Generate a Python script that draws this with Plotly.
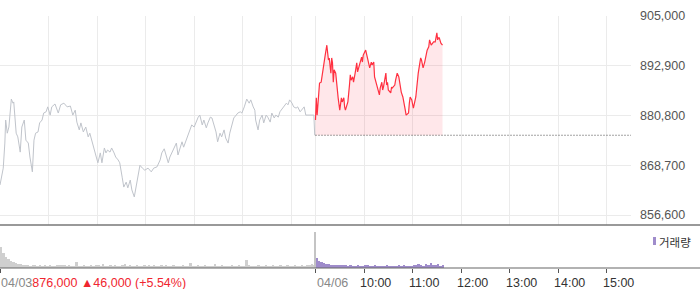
import plotly.graph_objects as go

# ---------------- data ----------------
PREV_CLOSE = 876000          # 04/03 close
DAY2_OFFSET = 390            # minutes of a trading session (09:00-15:30)

# 04/03 intraday (minutes after 09:00, price)
d1_min = [0,4,6,7,9,11,14,16,17,20,22,25,27,30,32,35,37,40,42,44,47,49,52,54,57,59,62,64,68,72,
          75,79,83,87,90,93,95,98,100,103,106,109,111,114,116,119,121,124,126,129,131,133,136,138,141,143,146,148,151,153,
          156,158,161,163,166,168,171,173,176,179,183,187,190,194,198,200,203,205,208,210,213,215,218,220,223,225,227,230,232,235,
          237,240,242,245,247,250,252,255,257,260,262,265,267,269,272,274,277,279,282,284,287,289,292,294,297,299,302,305,308,310,
          313,315,316,319,321,324,326,329,331,334,336,339,341,344,346,349,351,354,356,358,361,363,366,368,371,373,376,378,381,388,389]
d1_price = [863900,868000,874100,879700,876500,878000,884800,883800,884100,876500,875600,871900,878000,879700,874800,874100,870700,867100,874800,876500,
            876800,879000,879700,881400,881700,882900,880900,882900,883600,881400,883400,883800,882900,883100,880900,882100,879200,877300,879000,876800,
            878000,875600,876500,874100,873100,870700,869300,871700,869300,872900,871700,872400,871900,872900,871700,870700,870000,869300,865800,863400,
            864600,863200,865100,862700,861000,863400,866800,868700,868000,867500,868000,867100,868000,868300,870000,871700,872700,871200,869300,870700,
            871900,873100,874100,871200,873100,874400,873100,874800,875600,877800,878500,878000,879000,880400,880900,878500,879700,877800,879000,880400,
            880200,878000,876800,874400,876500,875600,877300,875300,874100,876500,879000,880200,880900,881400,881700,881400,882900,884800,883800,884600,
            882900,882100,879700,877300,879700,880900,879000,880900,880400,879200,881400,880200,880900,880400,881700,882600,882900,883800,883400,884600,
            883800,882900,882600,882900,881700,882100,882900,880900,880900,880900,876000]

# 04/06 intraday (minutes after 09:00, price)
d2_min = [0,1,2,5,7,10,11,12,14,15,16,17,19,20,21,22,23,25,26,28,30,31,32,33,35,36,37,40,41,42,
          43,44,46,47,49,51,52,54,56,57,58,59,62,63,64,67,68,69,70,72,73,75,77,79,80,82,83,84,87,88,
          89,90,93,94,95,98,99,100,101,103,104,106,108,109,111,112,115,116,117,119,120,121,124,125,126,127,129,130,131,133,
          135,136,137,138,140,141,143,145,146,148,150,151,152,153,155,157]
d2_price = [879700,885100,880900,888700,888900,893600,893800,895500,897900,895000,894300,894800,891100,894800,893600,888900,891900,891100,888700,885100,
            882100,884600,885100,884100,885100,882900,882100,884100,887700,888200,890700,889400,890200,888900,891100,893600,891400,893100,894800,895000,
            893800,895500,896700,896000,895000,892400,893600,893800,893100,893800,890200,888900,887000,885800,887500,888900,887000,887700,891100,888200,
            888900,887000,886300,887700,887500,888200,889400,890700,891100,890200,888700,886500,885300,883800,882100,880900,881400,883800,885300,884600,
            883400,882600,885300,887500,888700,891100,893600,894800,894300,892400,893800,894800,895000,896700,897500,899200,897900,898700,898700,898700,
            900900,899200,899700,899700,898400,897900]

# volume, 3-minute bins (shares)
d1_vol = [8400,6000,4400,3600,2800,2400,2000,1600,1600,1200, 1200,1200,800,1200,1200,800,1200,800,1200,800,
          1200,800,800,1200,1200,1200,1200,800,1200,800, 800,2400,800,800,1200,800,800,1200,800,1200,
          1200,800,1600,800,800,1200,800,1200,800,800, 1200,1600,800,1200,800,800,1200,800,800,1200,
          800,1200,800,1200,800,800,1200,800,1200,800, 800,1200,800,800,800,1200,800,800,2000,800,
          800,1200,800,800,1200,800,800,800,1600,800, 800,1200,800,800,800,1200,800,800,1200,800,
          800,3200,1200,800,800,800,1200,800,800,1200, 800,800,1200,800,800,1200,800,800,1200,800,
          800,1200,800,800,1200,800,1200,1200,1600,1200]
d1_close_vol = 14400
d2_vol = [4000,2800,2400,2000,1600,1600,1200,1200,1200,1200, 1200,1200,1200,800,1200,800,800,1200,800,800,
          1200,1200,800,800,1200,800,800,800,800,1200, 800,800,800,800,1200,800,1200,800,800,800,
          1200,1200,1600,1200,800,1600,1200,2000,1200,1200, 1600,800,1200]

y_ticks = [856600, 868700, 880800, 892900, 905000]
grid_x = [0, 60, 120, 180, 240, 300, 360, 390, 450, 510, 570, 630, 690, 750]
tick_x2 = [0, 390, 450, 510, 570, 630, 690, 750]
time_labels = ["10:00", "11:00", "12:00", "13:00", "14:00", "15:00"]
day_labels = ["04/03", "04/06"]
close_text = "876,000 ▲46,000 (+5.54%)"
legend_text = "거래량"

# ---------------- figure ----------------
W, H = 700, 289
ML, MR, MT, MB = 0, 69, 0, 21
PW = W - ML - MR
PH = H - MT - MB

def py(px_from_top):
    return (PH - (px_from_top - MT)) / PH

def px(x_pixel):
    return (x_pixel - ML) / PW

FONT = "Liberation Sans, Arial, sans-serif"
fig = go.Figure()

x2 = [DAY2_OFFSET + m for m in d2_min]

# day1 line
fig.add_trace(go.Scatter(x=d1_min, y=d1_price, mode="lines",
                         line=dict(color="#c0c4cb", width=1), hoverinfo="skip"))
# baseline for fill
fig.add_trace(go.Scatter(x=x2, y=[PREV_CLOSE] * len(x2), mode="lines",
                         line=dict(width=0, color="rgba(0,0,0,0)"), hoverinfo="skip"))
fig.add_trace(go.Scatter(x=x2, y=d2_price, mode="lines", fill="tonexty",
                         fillcolor="rgba(255,40,60,0.11)",
                         line=dict(color="#ff3040", width=1.2), hoverinfo="skip"))
# previous close dotted line
fig.add_trace(go.Scatter(x=[DAY2_OFFSET, 2 * DAY2_OFFSET], y=[PREV_CLOSE, PREV_CLOSE], mode="lines",
                         line=dict(color="#444", width=1, dash="1px,2px"), hoverinfo="skip"))

# volume
v1x = [1.5 + 3 * i for i in range(len(d1_vol))]
fig.add_trace(go.Bar(x=v1x, y=d1_vol, width=3, marker=dict(color="#cfcfcf", line=dict(width=0)),
                     xaxis="x2", yaxis="y2", hoverinfo="skip"))
fig.add_trace(go.Bar(x=[DAY2_OFFSET - 0.7], y=[d1_close_vol], width=0.9,
                     marker=dict(color="#c4c4c4", line=dict(width=0)),
                     xaxis="x2", yaxis="y2", hoverinfo="skip"))
v2x = [DAY2_OFFSET + 1.5 + 3 * i for i in range(len(d2_vol))]
fig.add_trace(go.Bar(x=v2x, y=d2_vol, width=3, marker=dict(color="#9f8ccb", line=dict(width=0)),
                     xaxis="x2", yaxis="y2", hoverinfo="skip"))

main_bottom = py(225)
main_top = py(16)
vol_scale = 400
fig.update_layout(
    width=W, height=H, margin=dict(l=ML, r=MR, t=MT, b=MB, autoexpand=False),
    paper_bgcolor="white", plot_bgcolor="white", showlegend=False, bargap=0,
    xaxis=dict(range=[0, 2 * DAY2_OFFSET], tickvals=grid_x, showticklabels=False, ticks="",
               showgrid=True, gridcolor="#ebebeb", gridwidth=1, zeroline=False, showline=False,
               anchor="y", automargin=False),
    xaxis2=dict(range=[0, 2 * DAY2_OFFSET], matches="x", tickvals=tick_x2, showticklabels=False,
                ticks="outside", ticklen=4, tickcolor="#555", tickwidth=1, showgrid=False,
                zeroline=False, showline=False, anchor="y2", automargin=False),
    yaxis=dict(domain=[main_bottom, main_top], range=[854170, 905000], side="right",
               tickvals=y_ticks, ticktext=[f"{v:,}" for v in y_ticks],
               tickfont=dict(family=FONT, size=12.5, color="#555"), ticks="",
               ticklabelstandoff=8, automargin=False,
               showgrid=True, gridcolor="#ebebeb", gridwidth=1, zeroline=False, showline=False),
    yaxis2=dict(domain=[0, main_bottom], range=[0, 43 * vol_scale], showgrid=False,
                showticklabels=False, zeroline=False, showline=False, automargin=False),
)

# panel separator lines (full width)
fig.add_shape(type="line", xref="paper", yref="paper", x0=0, x1=px(W), y0=main_bottom, y1=main_bottom,
              line=dict(color="#777", width=1.5))
fig.add_shape(type="line", xref="paper", yref="paper", x0=0, x1=px(W), y0=0, y1=0,
              line=dict(color="#666", width=1.2))

# legend
fig.add_shape(type="rect", xref="paper", yref="paper", x0=px(653), x1=px(656), y0=py(245), y1=py(237),
              fillcolor="#9f8ccb", line=dict(width=0))
fig.add_annotation(xref="paper", yref="paper", x=px(657), y=py(241.5), xanchor="left", yanchor="middle",
                   text=legend_text, showarrow=False,
                   font=dict(family="Noto Sans CJK KR", size=11.5, color="#333"))

# bottom labels
ylab = py(283)
fig.add_annotation(xref="x", yref="paper", x=0, y=ylab, xanchor="left", yanchor="middle", showarrow=False,
                   xshift=-1,
                   text=f"{day_labels[0]}<span style='color:#f0262f'>{close_text}</span>",
                   font=dict(family=FONT, size=12.5, color="#888"))
fig.add_annotation(xref="x", yref="paper", x=DAY2_OFFSET, y=ylab, xanchor="left", yanchor="middle",
                   showarrow=False, xshift=-1, text=day_labels[1],
                   font=dict(family=FONT, size=12.5, color="#888"))
for i, lab in enumerate(time_labels):
    fig.add_annotation(xref="x", yref="paper", x=DAY2_OFFSET + 60 * (i + 1), y=ylab,
                       xanchor="left", yanchor="middle", showarrow=False, xshift=-6, text=lab,
                       font=dict(family=FONT, size=12.5, color="#333"))

fig.write_html("out.html")
